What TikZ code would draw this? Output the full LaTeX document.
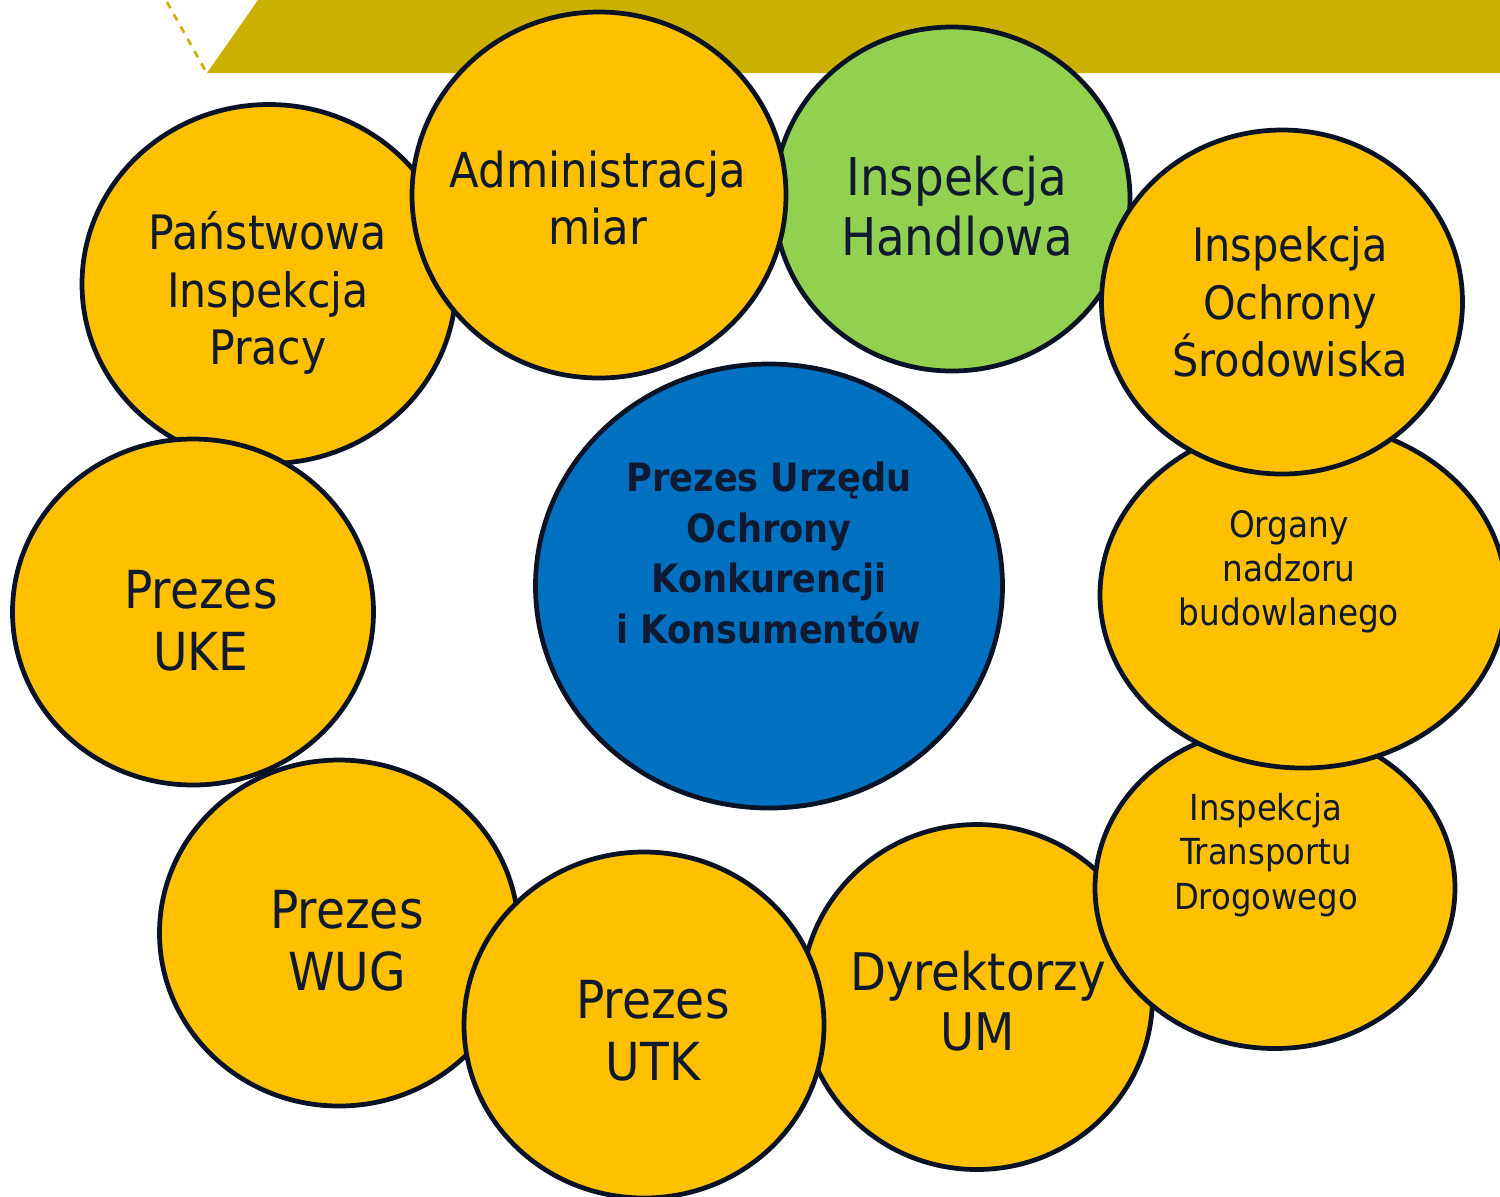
\documentclass[tikz,border=0pt]{standalone}
\usepackage{fontspec}
\setmainfont{DejaVu Sans Condensed}
\usetikzlibrary{shapes.geometric}

\definecolor{bandC}{HTML}{CCB000}
\definecolor{yelC}{HTML}{FFC000}
\definecolor{grnC}{HTML}{92D050}
\definecolor{bluC}{HTML}{0070C0}
\definecolor{lineC}{HTML}{0A1226}
\definecolor{txtC}{HTML}{0F1A30}

\tikzset{
	bub/.style = {ellipse, draw = lineC, line width = 1.35pt, inner sep = 0pt},
	sz/.style 2 args = {minimum width = 0.01cm * #1, minimum height = 0.01cm * #2},
	lbl/.style = {align = center, text = txtC, inner sep = 0pt}
}

\newcommand{\fs}[2]{\fontsize{#1}{#2}\selectfont}

\begin{document}
\begin{tikzpicture}[x = 0.01cm, y = -0.01cm]
\useasboundingbox (0, 0) rectangle (1500, 1196);

% band at the top
\fill[bandC] (258, 0) -- (1500, 0) -- (1500, 73) -- (207, 73) -- cycle;
\coordinate (d1) at (167, 2);
\coordinate (d2) at (205, 70);
\draw[bandC, line width = 0.75pt, dash pattern = on 2pt off 2pt] (d1) -- (d2);

% bubbles, back to front
\node[bub, fill = grnC, sz = {356}{344}] (han) at (952, 199) {};

\foreach \nm/\x/\y/\w/\h in {dyr/977/997/351/345, itd/1275/888/360/321,
	org/1303/595/406/346, ios/1282/302/361/344, pip/269/284/374/359,
	adm/599/195/374/366, uke/193/612/361/346, wug/339/933/359/346,
	utk/644/1025/360/346} {
	\node[bub, fill = yelC, sz = {\w}{\h}] (\nm) at (\x, \y) {};
}

\node[bub, fill = bluC, sz = {467}{444}] (uokik) at (769, 586) {};

% texts
\node[lbl, font = \fs{13.5}{16.4}] (tpip) at (268, 293) {Państwowa\\Inspekcja\\Pracy};
\node[lbl, font = \fs{13.7}{16.2}] (tadm) at (598, 198) {Administracja\\miar};
\node[lbl, font = \fs{14.8}{17}] (than) at (957, 206) {Inspekcja\\Handlowa};
\node[lbl, font = \fs{13.1}{16.4}] (tios) at (1290, 302) {Inspekcja\\Ochrony\\Środowiska};
\node[lbl, font = \fs{10.35}{12.5}] (torg) at (1289, 572) {Organy\\nadzoru\\budowlanego};
\node[lbl, font = \fs{10.2}{12.7}] (titd) at (1266, 855) {Inspekcja\\Transportu\\Drogowego};
\node[lbl, font = \fs{14.75}{17}] (tdyr) at (978, 1001) {Dyrektorzy\\UM};
\node[lbl, font = \fs{14.9}{17.6}] (tutk) at (653, 1031) {Prezes\\UTK};
\node[lbl, font = \fs{14.9}{17.6}] (twug) at (347, 941) {Prezes\\WUG};
\node[lbl, font = \fs{14.9}{17.6}] (tuke) at (201, 621) {Prezes\\UKE};
\node[lbl, font = \bfseries\fs{11.1}{14.4}] (tuokik) at (769, 553) {Prezes Urzędu\\Ochrony\\Konkurencji\\i Konsumentów};

\end{tikzpicture}
\end{document}
